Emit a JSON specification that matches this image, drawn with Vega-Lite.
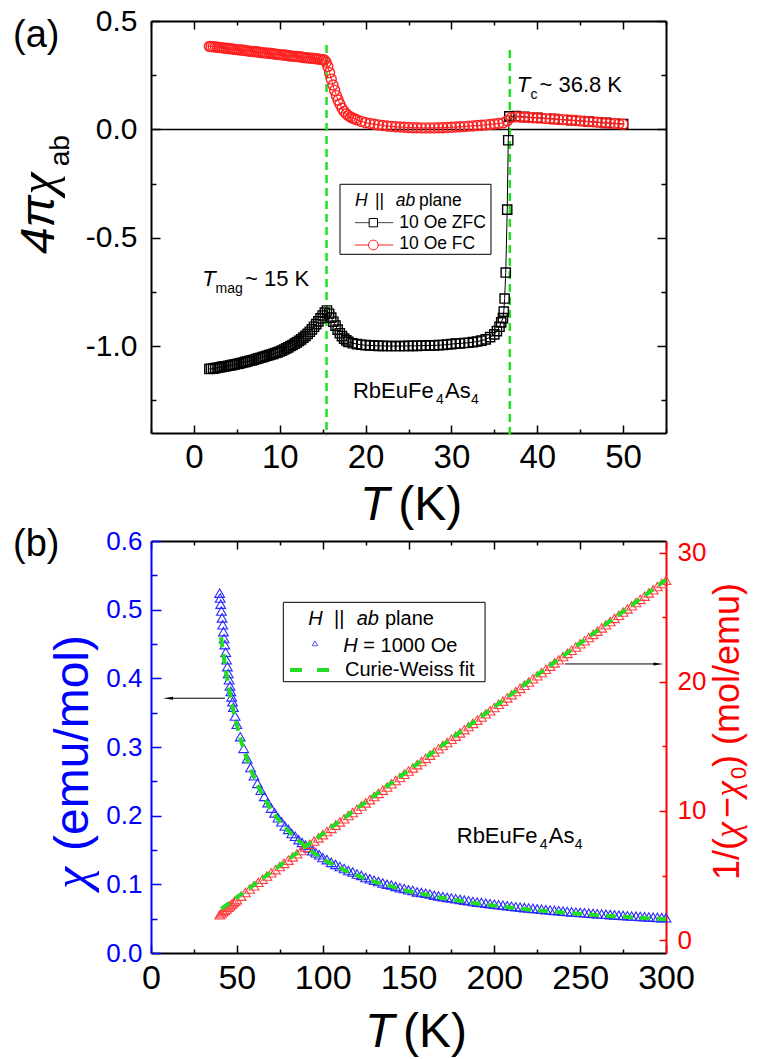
{
"$schema": "https://vega.github.io/schema/vega-lite/v6.json",
"autosize": {"type": "none"},
"padding": {"left": 151, "top": 21, "right": 606, "bottom": 1038},
"background": "white",
"config": {"view": {"stroke": null}, "font": "Liberation Sans", "text": {"font": "Liberation Sans"}, "axis": {"grid": false, "labelFont": "Liberation Sans"}},
"spacing": 108,
"bounds": "flush",
"datasets": {
"zfc": [{"T":1.8,"v":-1.105},{"T":2.0,"v":-1.104},{"T":2.25,"v":-1.103},{"T":2.5,"v":-1.101},{"T":2.75,"v":-1.099},{"T":3.0,"v":-1.097},{"T":3.25,"v":-1.095},{"T":3.5,"v":-1.093},{"T":3.75,"v":-1.092},{"T":4.0,"v":-1.09},{"T":4.25,"v":-1.088},{"T":4.5,"v":-1.086},{"T":4.75,"v":-1.084},{"T":5.0,"v":-1.082},{"T":5.25,"v":-1.08},{"T":5.5,"v":-1.077},{"T":5.75,"v":-1.075},{"T":6.0,"v":-1.072},{"T":6.25,"v":-1.07},{"T":6.5,"v":-1.067},{"T":6.75,"v":-1.065},{"T":7.0,"v":-1.062},{"T":7.25,"v":-1.059},{"T":7.5,"v":-1.056},{"T":7.75,"v":-1.053},{"T":8.0,"v":-1.05},{"T":8.25,"v":-1.047},{"T":8.5,"v":-1.044},{"T":8.75,"v":-1.041},{"T":9.0,"v":-1.038},{"T":9.25,"v":-1.035},{"T":9.5,"v":-1.031},{"T":9.75,"v":-1.028},{"T":10.0,"v":-1.024},{"T":10.25,"v":-1.02},{"T":10.5,"v":-1.015},{"T":10.75,"v":-1.01},{"T":11.0,"v":-1.005},{"T":11.25,"v":-0.999},{"T":11.5,"v":-0.994},{"T":11.75,"v":-0.988},{"T":12.0,"v":-0.982},{"T":12.25,"v":-0.975},{"T":12.5,"v":-0.968},{"T":12.75,"v":-0.96},{"T":13.0,"v":-0.952},{"T":13.25,"v":-0.943},{"T":13.5,"v":-0.933},{"T":13.75,"v":-0.922},{"T":14.0,"v":-0.91},{"T":14.25,"v":-0.898},{"T":14.5,"v":-0.885},{"T":14.75,"v":-0.871},{"T":15.0,"v":-0.858},{"T":15.25,"v":-0.845},{"T":15.5,"v":-0.835},{"T":15.75,"v":-0.85},{"T":16.0,"v":-0.868},{"T":16.25,"v":-0.887},{"T":16.5,"v":-0.905},{"T":16.75,"v":-0.923},{"T":17.0,"v":-0.94},{"T":17.25,"v":-0.953},{"T":17.5,"v":-0.965},{"T":17.75,"v":-0.973},{"T":18.0,"v":-0.98},{"T":18.5,"v":-0.986},{"T":19.0,"v":-0.99},{"T":19.5,"v":-0.993},{"T":20.0,"v":-0.995},{"T":20.5,"v":-0.996},{"T":21.0,"v":-0.997},{"T":21.5,"v":-0.998},{"T":22.0,"v":-0.998},{"T":22.5,"v":-0.999},{"T":23.0,"v":-0.999},{"T":23.5,"v":-0.999},{"T":24.0,"v":-0.999},{"T":24.5,"v":-0.999},{"T":25.0,"v":-0.998},{"T":25.5,"v":-0.998},{"T":26.0,"v":-0.998},{"T":26.5,"v":-0.997},{"T":27.0,"v":-0.997},{"T":27.5,"v":-0.996},{"T":28.0,"v":-0.996},{"T":28.5,"v":-0.995},{"T":29.0,"v":-0.994},{"T":29.5,"v":-0.992},{"T":30.0,"v":-0.99},{"T":30.5,"v":-0.988},{"T":31.0,"v":-0.987},{"T":31.5,"v":-0.985},{"T":32.0,"v":-0.984},{"T":32.5,"v":-0.981},{"T":33.0,"v":-0.978},{"T":33.5,"v":-0.974},{"T":34.0,"v":-0.968},{"T":34.5,"v":-0.958},{"T":35.0,"v":-0.945},{"T":35.3,"v":-0.93},{"T":35.6,"v":-0.91},{"T":35.8,"v":-0.89},{"T":36.0,"v":-0.87},{"T":36.1,"v":-0.84},{"T":36.2,"v":-0.78},{"T":36.33,"v":-0.66},{"T":36.5,"v":-0.37},{"T":36.62,"v":-0.05},{"T":36.75,"v":0.06},{"T":37.5,"v":0.062},{"T":38.5,"v":0.058},{"T":40,"v":0.054},{"T":42,"v":0.048},{"T":44,"v":0.042},{"T":46,"v":0.036},{"T":48,"v":0.03},{"T":50,"v":0.025}],
"fc": [{"T":1.8,"v":0.383},{"T":2.0,"v":0.382},{"T":2.25,"v":0.381},{"T":2.5,"v":0.38},{"T":2.75,"v":0.379},{"T":3.0,"v":0.378},{"T":3.25,"v":0.377},{"T":3.5,"v":0.375},{"T":3.75,"v":0.374},{"T":4.0,"v":0.373},{"T":4.25,"v":0.372},{"T":4.5,"v":0.371},{"T":4.75,"v":0.369},{"T":5.0,"v":0.368},{"T":5.25,"v":0.367},{"T":5.5,"v":0.366},{"T":5.75,"v":0.365},{"T":6.0,"v":0.364},{"T":6.25,"v":0.362},{"T":6.5,"v":0.361},{"T":6.75,"v":0.36},{"T":7.0,"v":0.359},{"T":7.25,"v":0.358},{"T":7.5,"v":0.357},{"T":7.75,"v":0.355},{"T":8.0,"v":0.354},{"T":8.25,"v":0.353},{"T":8.5,"v":0.352},{"T":8.75,"v":0.351},{"T":9.0,"v":0.35},{"T":9.25,"v":0.349},{"T":9.5,"v":0.347},{"T":9.75,"v":0.346},{"T":10.0,"v":0.345},{"T":10.25,"v":0.344},{"T":10.5,"v":0.343},{"T":10.75,"v":0.342},{"T":11.0,"v":0.34},{"T":11.25,"v":0.339},{"T":11.5,"v":0.338},{"T":11.75,"v":0.337},{"T":12.0,"v":0.336},{"T":12.25,"v":0.335},{"T":12.5,"v":0.334},{"T":12.75,"v":0.332},{"T":13.0,"v":0.331},{"T":13.25,"v":0.33},{"T":13.5,"v":0.329},{"T":13.75,"v":0.328},{"T":14.0,"v":0.327},{"T":14.25,"v":0.326},{"T":14.5,"v":0.325},{"T":14.75,"v":0.323},{"T":15.0,"v":0.322},{"T":15.2,"v":0.32},{"T":15.4,"v":0.31},{"T":15.6,"v":0.29},{"T":15.8,"v":0.262},{"T":16.0,"v":0.232},{"T":16.2,"v":0.205},{"T":16.4,"v":0.18},{"T":16.6,"v":0.156},{"T":16.8,"v":0.135},{"T":17.0,"v":0.117},{"T":17.25,"v":0.098},{"T":17.5,"v":0.083},{"T":17.75,"v":0.072},{"T":18.0,"v":0.063},{"T":18.25,"v":0.057},{"T":18.5,"v":0.052},{"T":18.75,"v":0.048},{"T":19.0,"v":0.044},{"T":19.5,"v":0.037},{"T":20.0,"v":0.031},{"T":20.5,"v":0.027},{"T":21.0,"v":0.024},{"T":21.5,"v":0.021},{"T":22.0,"v":0.018},{"T":22.5,"v":0.016},{"T":23.0,"v":0.014},{"T":23.5,"v":0.012},{"T":24.0,"v":0.011},{"T":24.5,"v":0.01},{"T":25.0,"v":0.009},{"T":25.5,"v":0.008},{"T":26.0,"v":0.008},{"T":26.5,"v":0.007},{"T":27.0,"v":0.007},{"T":27.5,"v":0.007},{"T":28.0,"v":0.007},{"T":28.5,"v":0.008},{"T":29.0,"v":0.008},{"T":29.5,"v":0.009},{"T":30.0,"v":0.01},{"T":30.5,"v":0.011},{"T":31.0,"v":0.012},{"T":31.5,"v":0.013},{"T":32.0,"v":0.015},{"T":32.5,"v":0.016},{"T":33.0,"v":0.018},{"T":33.5,"v":0.019},{"T":34.0,"v":0.021},{"T":34.5,"v":0.023},{"T":35.0,"v":0.025},{"T":35.5,"v":0.027},{"T":36.0,"v":0.03},{"T":36.5,"v":0.04},{"T":37.0,"v":0.055},{"T":37.5,"v":0.058},{"T":38.0,"v":0.057},{"T":38.5,"v":0.056},{"T":39.0,"v":0.055},{"T":39.5,"v":0.054},{"T":40.0,"v":0.053},{"T":40.5,"v":0.052},{"T":41.0,"v":0.05},{"T":41.5,"v":0.049},{"T":42.0,"v":0.048},{"T":42.5,"v":0.046},{"T":43.0,"v":0.045},{"T":43.5,"v":0.044},{"T":44.0,"v":0.042},{"T":44.5,"v":0.041},{"T":45.0,"v":0.039},{"T":45.5,"v":0.038},{"T":46.0,"v":0.036},{"T":46.5,"v":0.035},{"T":47.0,"v":0.033},{"T":47.5,"v":0.032},{"T":48.0,"v":0.03},{"T":48.5,"v":0.029},{"T":49.0,"v":0.027},{"T":49.5,"v":0.026},{"T":50.0,"v":0.024}],
"chi": [{"T":40.0,"c":0.524},{"T":40.3,"c":0.517},{"T":40.6,"c":0.508},{"T":41.0,"c":0.498},{"T":41.4,"c":0.488},{"T":41.8,"c":0.478},{"T":42.2,"c":0.468},{"T":42.6,"c":0.458},{"T":43.0,"c":0.449},{"T":43.5,"c":0.438},{"T":44.0,"c":0.427},{"T":44.5,"c":0.417},{"T":45.0,"c":0.407},{"T":45.5,"c":0.398},{"T":46.0,"c":0.389},{"T":46.5,"c":0.381},{"T":47.0,"c":0.373},{"T":47.5,"c":0.366},{"T":48.0,"c":0.358},{"T":49.0,"c":0.345},{"T":50.0,"c":0.333},{"T":52,"c":0.315},{"T":54,"c":0.298},{"T":56,"c":0.283},{"T":58,"c":0.27},{"T":60,"c":0.258},{"T":62,"c":0.247},{"T":64,"c":0.237},{"T":66,"c":0.228},{"T":68,"c":0.219},{"T":70,"c":0.211},{"T":72,"c":0.204},{"T":74,"c":0.197},{"T":76,"c":0.191},{"T":78,"c":0.185},{"T":80,"c":0.18},{"T":82,"c":0.174},{"T":84,"c":0.17},{"T":86,"c":0.165},{"T":88,"c":0.161},{"T":90,"c":0.157},{"T":92,"c":0.153},{"T":94,"c":0.149},{"T":96,"c":0.146},{"T":98,"c":0.143},{"T":100,"c":0.139},{"T":102.5,"c":0.136},{"T":105,"c":0.132},{"T":107.5,"c":0.129},{"T":110,"c":0.126},{"T":112.5,"c":0.123},{"T":115,"c":0.12},{"T":117.5,"c":0.118},{"T":120,"c":0.115},{"T":122.5,"c":0.113},{"T":125,"c":0.11},{"T":127.5,"c":0.108},{"T":130,"c":0.106},{"T":132.5,"c":0.104},{"T":135,"c":0.102},{"T":137.5,"c":0.1},{"T":140,"c":0.099},{"T":142.5,"c":0.097},{"T":145,"c":0.095},{"T":147.5,"c":0.094},{"T":150,"c":0.092},{"T":152.5,"c":0.091},{"T":155,"c":0.089},{"T":157.5,"c":0.088},{"T":160,"c":0.087},{"T":162.5,"c":0.086},{"T":165,"c":0.084},{"T":167.5,"c":0.083},{"T":170,"c":0.082},{"T":172.5,"c":0.081},{"T":175,"c":0.08},{"T":177.5,"c":0.079},{"T":180,"c":0.078},{"T":182.5,"c":0.077},{"T":185,"c":0.076},{"T":187.5,"c":0.075},{"T":190,"c":0.074},{"T":192.5,"c":0.0735},{"T":195,"c":0.0726},{"T":197.5,"c":0.0718},{"T":200,"c":0.071},{"T":202.5,"c":0.0703},{"T":205,"c":0.0695},{"T":207.5,"c":0.0688},{"T":210,"c":0.0681},{"T":212.5,"c":0.0674},{"T":215,"c":0.0668},{"T":217.5,"c":0.0661},{"T":220,"c":0.0655},{"T":222.5,"c":0.0649},{"T":225,"c":0.0643},{"T":227.5,"c":0.0637},{"T":230,"c":0.0631},{"T":232.5,"c":0.0626},{"T":235,"c":0.062},{"T":237.5,"c":0.0615},{"T":240,"c":0.0609},{"T":242.5,"c":0.0604},{"T":245,"c":0.0599},{"T":247.5,"c":0.0594},{"T":250,"c":0.059},{"T":252.5,"c":0.0585},{"T":255,"c":0.058},{"T":257.5,"c":0.0576},{"T":260,"c":0.0571},{"T":262.5,"c":0.0567},{"T":265,"c":0.0563},{"T":267.5,"c":0.0559},{"T":270,"c":0.0555},{"T":272.5,"c":0.0551},{"T":275,"c":0.0547},{"T":277.5,"c":0.0543},{"T":280,"c":0.0539},{"T":282.5,"c":0.0536},{"T":285,"c":0.0532},{"T":287.5,"c":0.0528},{"T":290,"c":0.0525},{"T":292.5,"c":0.0522},{"T":295,"c":0.0518},{"T":297.5,"c":0.0515},{"T":300,"c":0.0512}],
"inv": [{"T":40,"r":1.96},{"T":41,"r":2.06},{"T":42,"r":2.2},{"T":43,"r":2.3},{"T":44,"r":2.41},{"T":45,"r":2.54},{"T":46,"r":2.65},{"T":47,"r":2.77},{"T":48,"r":2.9},{"T":49,"r":3.01},{"T":50,"r":3.13},{"T":52.5,"r":3.4},{"T":55,"r":3.68},{"T":57.5,"r":3.95},{"T":60,"r":4.21},{"T":62.5,"r":4.47},{"T":65,"r":4.71},{"T":67.5,"r":4.96},{"T":70,"r":5.21},{"T":72.5,"r":5.45},{"T":75,"r":5.7},{"T":77.5,"r":5.94},{"T":80,"r":6.19},{"T":82.5,"r":6.44},{"T":85,"r":6.68},{"T":87.5,"r":6.93},{"T":90,"r":7.18},{"T":92.5,"r":7.42},{"T":95,"r":7.67},{"T":97.5,"r":7.91},{"T":100,"r":8.16},{"T":102.5,"r":8.41},{"T":105,"r":8.65},{"T":107.5,"r":8.9},{"T":110,"r":9.15},{"T":112.5,"r":9.39},{"T":115,"r":9.64},{"T":117.5,"r":9.88},{"T":120,"r":10.13},{"T":122.5,"r":10.38},{"T":125,"r":10.62},{"T":127.5,"r":10.87},{"T":130,"r":11.12},{"T":132.5,"r":11.36},{"T":135,"r":11.61},{"T":137.5,"r":11.85},{"T":140,"r":12.1},{"T":142.5,"r":12.35},{"T":145,"r":12.59},{"T":147.5,"r":12.84},{"T":150,"r":13.09},{"T":152.5,"r":13.33},{"T":155,"r":13.58},{"T":157.5,"r":13.82},{"T":160,"r":14.07},{"T":162.5,"r":14.32},{"T":165,"r":14.56},{"T":167.5,"r":14.81},{"T":170,"r":15.06},{"T":172.5,"r":15.3},{"T":175,"r":15.55},{"T":177.5,"r":15.79},{"T":180,"r":16.04},{"T":182.5,"r":16.29},{"T":185,"r":16.53},{"T":187.5,"r":16.78},{"T":190,"r":17.03},{"T":192.5,"r":17.27},{"T":195,"r":17.52},{"T":197.5,"r":17.76},{"T":200,"r":18.01},{"T":202.5,"r":18.26},{"T":205,"r":18.5},{"T":207.5,"r":18.75},{"T":210,"r":19.0},{"T":212.5,"r":19.24},{"T":215,"r":19.49},{"T":217.5,"r":19.73},{"T":220,"r":19.98},{"T":222.5,"r":20.23},{"T":225,"r":20.47},{"T":227.5,"r":20.72},{"T":230,"r":20.97},{"T":232.5,"r":21.21},{"T":235,"r":21.46},{"T":237.5,"r":21.7},{"T":240,"r":21.95},{"T":242.5,"r":22.2},{"T":245,"r":22.44},{"T":247.5,"r":22.69},{"T":250,"r":22.94},{"T":252.5,"r":23.18},{"T":255,"r":23.43},{"T":257.5,"r":23.67},{"T":260,"r":23.92},{"T":262.5,"r":24.17},{"T":265,"r":24.41},{"T":267.5,"r":24.66},{"T":270,"r":24.91},{"T":272.5,"r":25.15},{"T":275,"r":25.4},{"T":277.5,"r":25.64},{"T":280,"r":25.89},{"T":282.5,"r":26.14},{"T":285,"r":26.38},{"T":287.5,"r":26.63},{"T":290,"r":26.88},{"T":292.5,"r":27.12},{"T":295,"r":27.37},{"T":297.5,"r":27.61},{"T":300,"r":27.86}],
"chifit": [{"T":40.8,"c":0.46},{"T":42,"c":0.438},{"T":44,"c":0.405},{"T":46,"c":0.377},{"T":48,"c":0.353},{"T":50,"c":0.332},{"T":55,"c":0.289},{"T":60,"c":0.256},{"T":65,"c":0.23},{"T":70,"c":0.209},{"T":75,"c":0.192},{"T":80,"c":0.178},{"T":90,"c":0.155},{"T":100,"c":0.137},{"T":110,"c":0.124},{"T":120,"c":0.113},{"T":130,"c":0.104},{"T":140,"c":0.097},{"T":150,"c":0.09},{"T":160,"c":0.085},{"T":170,"c":0.08},{"T":180,"c":0.076},{"T":190,"c":0.072},{"T":200,"c":0.069},{"T":220,"c":0.0635},{"T":240,"c":0.059},{"T":260,"c":0.0551},{"T":280,"c":0.0519},{"T":300,"c":0.0492}],
"invfit": [{"T":41,"r":2.42},{"T":300,"r":27.9}]
},
"vconcat": [
{
"width": 515, "height": 412,
"resolve": {"axis": {"x": "independent", "y": "independent"}},
"layer": [
{"data": {"values": [{"T": -5, "T2": 55, "v": 0}]},
 "mark": {"type": "rule", "color": "black", "strokeWidth": 1.5},
 "encoding": {
  "x": {"field": "T", "type": "quantitative", "scale": {"domain": [-5, 55], "nice": false, "zero": false},
        "axis": {"orient": "bottom", "values": [0,10,20,30,40,50], "ticks": false, "labelFontSize": 33, "labelPadding": 8, "labelColor": "black", "labelFlush": false, "labelOverlap": false, "domain": true, "domainColor": "black", "domainWidth": 2, "title": null}},
  "x2": {"field": "T2"},
  "y": {"field": "v", "type": "quantitative", "scale": {"domain": [-1.4, 0.5], "nice": false, "zero": false},
        "axis": {"orient": "left", "values": [-1,-0.5,0,0.5], "labelExpr": "(datum.value < 0 ? '-' : '') + format(abs(datum.value), '.1f')", "ticks": false, "labelFontSize": 30, "labelPadding": 14, "labelColor": "black", "labelOverlap": false, "domain": true, "domainColor": "black", "domainWidth": 2, "title": null}}
 }},
{"data": {"values": [{"T": 15.45, "v": 0.389, "v2": -1.41}, {"T": 36.8, "v": 0.366, "v2": -1.415}]},
 "mark": {"type": "rule", "color": "#22e022", "strokeWidth": 2.5, "strokeDash": [8, 5]},
 "encoding": {
  "x": {"field": "T", "type": "quantitative", "scale": {"domain": [-5, 55], "nice": false, "zero": false},
        "axis": {"orient": "bottom", "values": [0,10,20,30,40,50], "labels": false, "domain": false, "tickSize": -8, "tickWidth": 1.5, "tickColor": "black", "title": null}},
  "y": {"field": "v", "type": "quantitative", "scale": {"domain": [-1.4, 0.5], "nice": false, "zero": false},
        "axis": {"orient": "left", "values": [-1,-0.5,0,0.5], "labels": false, "domain": false, "tickSize": -9, "tickWidth": 1.5, "tickColor": "black", "title": null}},
  "y2": {"field": "v2"}
 }},
{"data": {"name": "zfc"},
 "mark": {"type": "line", "color": "black", "strokeWidth": 1},
 "encoding": {
  "x": {"field": "T", "type": "quantitative", "scale": {"domain": [-5, 55], "nice": false, "zero": false},
        "axis": {"orient": "bottom", "values": [-5,5,15,25,35,45,55], "labels": false, "domain": false, "tickSize": -4, "tickWidth": 1.5, "tickColor": "black", "title": null}},
  "y": {"field": "v", "type": "quantitative", "scale": {"domain": [-1.4, 0.5], "nice": false, "zero": false},
        "axis": {"orient": "left", "values": [-1.25,-0.75,-0.25,0.25], "labels": false, "domain": false, "tickSize": -5, "tickWidth": 1.5, "tickColor": "black", "title": null}}
 }},
{"data": {"name": "fc"},
 "mark": {"type": "line", "color": "#ff2020", "strokeWidth": 1},
 "encoding": {
  "x": {"field": "T", "type": "quantitative", "scale": {"domain": [-5, 55], "nice": false, "zero": false},
        "axis": {"orient": "top", "values": [0,10,20,30,40,50], "labels": false, "domain": true, "domainColor": "black", "domainWidth": 2, "tickSize": -8, "tickWidth": 1.5, "tickColor": "black", "title": null}},
  "y": {"field": "v", "type": "quantitative", "scale": {"domain": [-1.4, 0.5], "nice": false, "zero": false},
        "axis": {"orient": "right", "values": [-1,-0.5,0,0.5], "labels": false, "domain": true, "domainColor": "black", "domainWidth": 2, "tickSize": -9, "tickWidth": 1.5, "tickColor": "black", "title": null}}
 }},
{"data": {"name": "zfc"},
 "mark": {"type": "point", "shape": "square", "size": 85, "filled": false, "stroke": "black", "strokeWidth": 1.4, "opacity": 1},
 "encoding": {
  "x": {"field": "T", "type": "quantitative", "scale": {"domain": [-5, 55], "nice": false, "zero": false},
        "axis": {"orient": "top", "values": [-5,5,15,25,35,45,55], "labels": false, "domain": false, "tickSize": -4, "tickWidth": 1.5, "tickColor": "black", "title": null}},
  "y": {"field": "v", "type": "quantitative", "scale": {"domain": [-1.4, 0.5], "nice": false, "zero": false},
        "axis": {"orient": "right", "values": [-1.25,-0.75,-0.25,0.25], "labels": false, "domain": false, "tickSize": -5, "tickWidth": 1.5, "tickColor": "black", "title": null}}
 }},
{"data": {"name": "fc"},
 "mark": {"type": "point", "shape": "circle", "size": 100, "filled": false, "stroke": "#ff2020", "strokeWidth": 1.4, "opacity": 1},
 "encoding": {
  "x": {"field": "T", "type": "quantitative", "scale": {"domain": [-5, 55], "nice": false, "zero": false}, "axis": null},
  "y": {"field": "v", "type": "quantitative", "scale": {"domain": [-1.4, 0.5], "nice": false, "zero": false}, "axis": null}
 }},
{"data": {"values": [{"T": 17.02, "T2": 34.61, "v": -0.253, "v2": -0.576}]},
 "mark": {"type": "rect", "fill": "white", "stroke": "black", "strokeWidth": 1},
 "encoding": {
  "x": {"field": "T", "type": "quantitative", "axis": null}, "x2": {"field": "T2"},
  "y": {"field": "v", "type": "quantitative", "axis": null}, "y2": {"field": "v2"}
 }},
{"data": {"values": [{"T": 18.77, "T2": 23.23, "v": -0.43, "s": "ZFC"}, {"T": 18.77, "T2": 23.23, "v": -0.533, "s": "FC"}]},
 "mark": {"type": "rule", "strokeWidth": 1},
 "encoding": {
  "x": {"field": "T", "type": "quantitative", "axis": null}, "x2": {"field": "T2"},
  "y": {"field": "v", "type": "quantitative", "axis": null},
  "color": {"field": "s", "type": "nominal", "scale": {"domain": ["ZFC", "FC"], "range": ["#444444", "#ff2020"]}, "legend": null}
 }},
{"data": {"values": [{"T": 20.9, "v": -0.43}]},
 "mark": {"type": "point", "shape": "square", "size": 70, "fill": "white", "stroke": "black", "strokeWidth": 1, "opacity": 1, "filled": true},
 "encoding": {"x": {"field": "T", "type": "quantitative", "axis": null}, "y": {"field": "v", "type": "quantitative", "axis": null}}},
{"data": {"values": [{"T": 20.9, "v": -0.533}]},
 "mark": {"type": "point", "shape": "circle", "size": 95, "fill": "white", "stroke": "#ff2020", "strokeWidth": 1, "opacity": 1, "filled": true},
 "encoding": {"x": {"field": "T", "type": "quantitative", "axis": null}, "y": {"field": "v", "type": "quantitative", "axis": null}}},
{"data": {"values": [{"T": 40.26, "v": 0.174, "t": "~ 36.8 K"}, {"T": 5.95, "v": -0.722, "t": "~ 15 K"}, {"T": 18.53, "v": -1.239, "t": "RbEuFe"}, {"T": 29.25, "v": -1.239, "t": "As"}]},
 "mark": {"type": "text", "align": "left", "baseline": "alphabetic", "fontSize": 22, "color": "black"},
 "encoding": {"x": {"field": "T", "type": "quantitative", "axis": null}, "y": {"field": "v", "type": "quantitative", "axis": null}, "text": {"field": "t"}}},
{"data": {"values": [{"T": 37.61, "v": 0.174, "t": "T"}, {"T": 0.98, "v": -0.722, "t": "T"}]},
 "mark": {"type": "text", "align": "left", "baseline": "alphabetic", "fontSize": 22, "fontStyle": "italic", "color": "black"},
 "encoding": {"x": {"field": "T", "type": "quantitative", "axis": null}, "y": {"field": "v", "type": "quantitative", "axis": null}, "text": {"field": "t"}}},
{"data": {"values": [{"T": 39.21, "v": 0.14, "t": "c"}, {"T": 2.52, "v": -0.756, "t": "mag"}, {"T": 28.2, "v": -1.267, "t": "4"}, {"T": 32.28, "v": -1.267, "t": "4"}]},
 "mark": {"type": "text", "align": "left", "baseline": "alphabetic", "fontSize": 14, "color": "black"},
 "encoding": {"x": {"field": "T", "type": "quantitative", "axis": null}, "y": {"field": "v", "type": "quantitative", "axis": null}, "text": {"field": "t"}}},
{"data": {"values": [{"T": 21.1, "v": -0.352, "t": "||"}, {"T": 26.22, "v": -0.352, "t": "plane"}, {"T": 23.93, "v": -0.456, "t": "10 Oe ZFC"}, {"T": 23.93, "v": -0.552, "t": "10 Oe FC"}]},
 "mark": {"type": "text", "align": "left", "baseline": "alphabetic", "fontSize": 17.5, "color": "black"},
 "encoding": {"x": {"field": "T", "type": "quantitative", "axis": null}, "y": {"field": "v", "type": "quantitative", "axis": null}, "text": {"field": "t"}}},
{"data": {"values": [{"T": 18.77, "v": -0.352, "t": "H"}, {"T": 23.51, "v": -0.352, "t": "ab"}]},
 "mark": {"type": "text", "align": "left", "baseline": "alphabetic", "fontSize": 17.5, "fontStyle": "italic", "color": "black"},
 "encoding": {"x": {"field": "T", "type": "quantitative", "axis": null}, "y": {"field": "v", "type": "quantitative", "axis": null}, "text": {"field": "t"}}},
{"data": {"values": [{"T": 19.35, "v": -1.801, "t": "T"}]},
 "mark": {"type": "text", "align": "left", "baseline": "alphabetic", "fontSize": 48, "fontStyle": "italic", "color": "black"},
 "encoding": {"x": {"field": "T", "type": "quantitative", "axis": null}, "y": {"field": "v", "type": "quantitative", "axis": null}, "text": {"field": "t"}}},
{"data": {"values": [{"T": 23.81, "v": -1.801, "t": "(K)"}]},
 "mark": {"type": "text", "align": "left", "baseline": "alphabetic", "fontSize": 48, "color": "black"},
 "encoding": {"x": {"field": "T", "type": "quantitative", "axis": null}, "y": {"field": "v", "type": "quantitative", "axis": null}, "text": {"field": "t"}}},
{"data": {"values": [{"T": -21.08, "v": 0.38, "t": "(a)"}]},
 "mark": {"type": "text", "align": "left", "baseline": "alphabetic", "fontSize": 38, "color": "black"},
 "encoding": {"x": {"field": "T", "type": "quantitative", "axis": null}, "y": {"field": "v", "type": "quantitative", "axis": null}, "text": {"field": "t"}}},
{"data": {"values": [{"T": -16.3, "v": -0.575, "t": "4π"}]},
 "mark": {"type": "text", "align": "left", "baseline": "alphabetic", "fontSize": 48, "fontStyle": "italic", "angle": 270, "color": "black"},
 "encoding": {"x": {"field": "T", "type": "quantitative", "axis": null}, "y": {"field": "v", "type": "quantitative", "axis": null}, "text": {"field": "t"}}},
{"data": {"values": [{"T": -16.3, "v": -0.3, "t": "χ"}]},
 "mark": {"type": "text", "align": "left", "baseline": "alphabetic", "fontSize": 50, "fontStyle": "italic", "font": "Liberation Serif", "angle": 270, "color": "black"},
 "encoding": {"x": {"field": "T", "type": "quantitative", "axis": null}, "y": {"field": "v", "type": "quantitative", "axis": null}, "text": {"field": "t"}}},
{"data": {"values": [{"T": -14.6, "v": -0.17, "t": "ab"}]},
 "mark": {"type": "text", "align": "left", "baseline": "alphabetic", "fontSize": 28, "angle": 270, "color": "black"},
 "encoding": {"x": {"field": "T", "type": "quantitative", "axis": null}, "y": {"field": "v", "type": "quantitative", "axis": null}, "text": {"field": "t"}}}
]
},
{
"width": 515, "height": 412,
"resolve": {"scale": {"y": "independent"}, "axis": {"x": "independent", "y": "independent"}},
"layer": [
{"data": {"name": "chi"},
 "mark": {"type": "point", "shape": "triangle-up", "size": 95, "filled": false, "stroke": "#2a2aff", "strokeWidth": 1.1, "opacity": 1},
 "encoding": {
  "x": {"field": "T", "type": "quantitative", "scale": {"domain": [0, 300], "nice": false, "zero": false},
        "axis": {"orient": "bottom", "values": [0,50,100,150,200,250,300], "ticks": false, "labelFontSize": 34, "labelPadding": 8, "labelColor": "black", "labelFlush": false, "labelOverlap": false, "domain": true, "domainColor": "black", "domainWidth": 2, "title": null}},
  "y": {"field": "c", "type": "quantitative", "scale": {"domain": [0, 0.6], "nice": false, "zero": false},
        "axis": {"orient": "left", "values": [0,0.1,0.2,0.3,0.4,0.5,0.6], "format": ".1f", "ticks": false, "labelFontSize": 26, "labelPadding": 9, "labelColor": "#0000ff", "labelOverlap": false, "domain": true, "domainColor": "#0000ff", "domainWidth": 2, "title": null}}
 }},
{"data": {"name": "inv"},
 "mark": {"type": "point", "shape": "triangle-up", "size": 95, "filled": false, "stroke": "#ff4040", "strokeWidth": 1.1, "opacity": 1},
 "encoding": {
  "x": {"field": "T", "type": "quantitative", "scale": {"domain": [0, 300], "nice": false, "zero": false}, "axis": null},
  "y": {"field": "r", "type": "quantitative", "scale": {"domain": [-1, 30.9], "nice": false, "zero": false},
        "axis": {"orient": "right", "values": [0,10,20,30], "format": "d", "ticks": false, "labelFontSize": 26, "labelPadding": 11, "labelColor": "#ff0000", "labelOverlap": false, "domain": true, "domainColor": "#ff0000", "domainWidth": 2, "title": null}}
 }},
{"data": {"name": "chifit"},
 "mark": {"type": "line", "color": "#22dd22", "strokeWidth": 4, "strokeDash": [10, 7], "interpolate": "monotone"},
 "encoding": {
  "x": {"field": "T", "type": "quantitative", "scale": {"domain": [0, 300], "nice": false, "zero": false},
        "axis": {"orient": "bottom", "values": [0,50,100,150,200,250,300], "labels": false, "domain": false, "tickSize": -8, "tickWidth": 1.5, "tickColor": "black", "title": null}},
  "y": {"field": "c", "type": "quantitative", "scale": {"domain": [0, 0.6], "nice": false, "zero": false},
        "axis": {"orient": "left", "values": [0,0.1,0.2,0.3,0.4,0.5,0.6], "labels": false, "domain": false, "tickSize": -10, "tickWidth": 1.5, "tickColor": "#0000ff", "title": null}}
 }},
{"data": {"name": "invfit"},
 "mark": {"type": "line", "color": "#22dd22", "strokeWidth": 4, "strokeDash": [10, 7]},
 "encoding": {
  "x": {"field": "T", "type": "quantitative", "scale": {"domain": [0, 300], "nice": false, "zero": false}, "axis": null},
  "y": {"field": "r", "type": "quantitative", "scale": {"domain": [-1, 30.9], "nice": false, "zero": false},
        "axis": {"orient": "right", "values": [0,10,20,30], "labels": false, "domain": false, "tickSize": -7, "tickWidth": 1.5, "tickColor": "#ff0000", "title": null}}
 }},
{"data": {"values": [{"T": 43.1, "T2": 11.1, "c": 0.371}]},
 "mark": {"type": "rule", "color": "black", "strokeWidth": 1},
 "encoding": {
  "x": {"field": "T", "type": "quantitative", "scale": {"domain": [0, 300], "nice": false, "zero": false},
        "axis": {"orient": "bottom", "values": [25,75,125,175,225,275], "labels": false, "domain": false, "tickSize": -4, "tickWidth": 1.5, "tickColor": "black", "title": null}},
  "x2": {"field": "T2"},
  "y": {"field": "c", "type": "quantitative", "scale": {"domain": [0, 0.6], "nice": false, "zero": false},
        "axis": {"orient": "left", "values": [0.05,0.15,0.25,0.35,0.45,0.55], "labels": false, "domain": false, "tickSize": -6, "tickWidth": 1.5, "tickColor": "#0000ff", "title": null}}
 }},
{"data": {"values": [{"T": 241.2, "T2": 293.6, "r": 21.38}]},
 "mark": {"type": "rule", "color": "black", "strokeWidth": 1},
 "encoding": {
  "x": {"field": "T", "type": "quantitative", "scale": {"domain": [0, 300], "nice": false, "zero": false}, "axis": null},
  "x2": {"field": "T2"},
  "y": {"field": "r", "type": "quantitative", "scale": {"domain": [-1, 30.9], "nice": false, "zero": false},
        "axis": {"orient": "right", "values": [5,15,25], "labels": false, "domain": false, "tickSize": -4, "tickWidth": 1.5, "tickColor": "#ff0000", "title": null}}
 }},
{"data": {"values": [{"T": 9.9, "c": 0.371}]},
 "mark": {"type": "point", "shape": "M-1,0L1,-0.3L1,0.3Z", "size": 100, "filled": true, "fill": "black", "stroke": null, "opacity": 1},
 "encoding": {
  "x": {"field": "T", "type": "quantitative", "scale": {"domain": [0, 300], "nice": false, "zero": false},
        "axis": {"orient": "top", "values": [0,50,100,150,200,250,300], "labels": false, "domain": true, "domainColor": "black", "domainWidth": 2, "tickSize": -8, "tickWidth": 1.5, "tickColor": "black", "title": null}},
  "y": {"field": "c", "type": "quantitative", "scale": {"domain": [0, 0.6], "nice": false, "zero": false}, "axis": null}
 }},
{"data": {"values": [{"T": 295.6, "r": 21.38}]},
 "mark": {"type": "point", "shape": "M1,0L-1,-0.3L-1,0.3Z", "size": 100, "filled": true, "fill": "black", "stroke": null, "opacity": 1},
 "encoding": {
  "x": {"field": "T", "type": "quantitative", "scale": {"domain": [0, 300], "nice": false, "zero": false}, "axis": null},
  "y": {"field": "r", "type": "quantitative", "scale": {"domain": [-1, 30.9], "nice": false, "zero": false}, "axis": null}
 }},
{"data": {"values": [{"T": 77.07, "T2": 194.6, "c": 0.5107, "c2": 0.3951}]},
 "mark": {"type": "rect", "fill": "white", "stroke": "black", "strokeWidth": 1},
 "encoding": {
  "x": {"field": "T", "type": "quantitative", "scale": {"domain": [0, 300], "nice": false, "zero": false},
        "axis": {"orient": "top", "values": [25,75,125,175,225,275], "labels": false, "domain": false, "tickSize": -4, "tickWidth": 1.5, "tickColor": "black", "title": null}},
  "x2": {"field": "T2"},
  "y": {"field": "c", "type": "quantitative", "scale": {"domain": [0, 0.6], "nice": false, "zero": false}, "axis": null},
  "y2": {"field": "c2"}
 }},
{"data": {"values": [{"T": 81.0, "T2": 104.3, "c": 0.4121}]},
 "mark": {"type": "rule", "color": "#22dd22", "strokeWidth": 4, "strokeDash": [12, 15]},
 "encoding": {
  "x": {"field": "T", "type": "quantitative", "scale": {"domain": [0, 300], "nice": false, "zero": false}, "axis": null},
  "x2": {"field": "T2"},
  "y": {"field": "c", "type": "quantitative", "scale": {"domain": [0, 0.6], "nice": false, "zero": false}, "axis": null}
 }},
{"data": {"values": [{"T": 95.5, "c": 0.451}]},
 "mark": {"type": "point", "shape": "triangle-up", "size": 30, "filled": false, "stroke": "#2a2aff", "strokeWidth": 0.8, "opacity": 1},
 "encoding": {
  "x": {"field": "T", "type": "quantitative", "scale": {"domain": [0, 300], "nice": false, "zero": false}, "axis": null},
  "y": {"field": "c", "type": "quantitative", "scale": {"domain": [0, 0.6], "nice": false, "zero": false}, "axis": null}
 }},
{"data": {"values": [{"T": 106.6, "c": 0.4776, "t": "||"}, {"T": 136.3, "c": 0.4776, "t": "plane"}, {"T": 123.7, "c": 0.4388, "t": "= 1000 Oe"}, {"T": 113.0, "c": 0.4034, "t": "Curie-Weiss fit"}]},
 "mark": {"type": "text", "align": "left", "baseline": "alphabetic", "fontSize": 20, "color": "black"},
 "encoding": {
  "x": {"field": "T", "type": "quantitative", "scale": {"domain": [0, 300], "nice": false, "zero": false}, "axis": null},
  "y": {"field": "c", "type": "quantitative", "scale": {"domain": [0, 0.6], "nice": false, "zero": false}, "axis": null},
  "text": {"field": "t"}}},
{"data": {"values": [{"T": 91.6, "c": 0.4776, "t": "H"}, {"T": 119.8, "c": 0.4776, "t": "ab"}, {"T": 112.0, "c": 0.4388, "t": "H"}]},
 "mark": {"type": "text", "align": "left", "baseline": "alphabetic", "fontSize": 20, "fontStyle": "italic", "color": "black"},
 "encoding": {
  "x": {"field": "T", "type": "quantitative", "scale": {"domain": [0, 300], "nice": false, "zero": false}, "axis": null},
  "y": {"field": "c", "type": "quantitative", "scale": {"domain": [0, 0.6], "nice": false, "zero": false}, "axis": null},
  "text": {"field": "t"}}},
{"data": {"values": [{"T": 178.1, "c": 0.1606, "t": "RbEuFe"}, {"T": 231.7, "c": 0.1606, "t": "As"}]},
 "mark": {"type": "text", "align": "left", "baseline": "alphabetic", "fontSize": 22, "color": "black"},
 "encoding": {
  "x": {"field": "T", "type": "quantitative", "scale": {"domain": [0, 300], "nice": false, "zero": false}, "axis": null},
  "y": {"field": "c", "type": "quantitative", "scale": {"domain": [0, 0.6], "nice": false, "zero": false}, "axis": null},
  "text": {"field": "t"}}},
{"data": {"values": [{"T": 226.4, "c": 0.1519, "t": "4"}, {"T": 246.8, "c": 0.1519, "t": "4"}]},
 "mark": {"type": "text", "align": "left", "baseline": "alphabetic", "fontSize": 14, "color": "black"},
 "encoding": {
  "x": {"field": "T", "type": "quantitative", "scale": {"domain": [0, 300], "nice": false, "zero": false}, "axis": null},
  "y": {"field": "c", "type": "quantitative", "scale": {"domain": [0, 0.6], "nice": false, "zero": false}, "axis": null},
  "text": {"field": "t"}}},
{"data": {"values": [{"T": -80.4, "c": 0.578, "t": "(b)"}]},
 "mark": {"type": "text", "align": "left", "baseline": "alphabetic", "fontSize": 38, "color": "black"},
 "encoding": {
  "x": {"field": "T", "type": "quantitative", "scale": {"domain": [0, 300], "nice": false, "zero": false}, "axis": null},
  "y": {"field": "c", "type": "quantitative", "scale": {"domain": [0, 0.6], "nice": false, "zero": false}, "axis": null},
  "text": {"field": "t"}}},
{"data": {"values": [{"T": 124.7, "c": -0.137, "t": "T"}]},
 "mark": {"type": "text", "align": "left", "baseline": "alphabetic", "fontSize": 48, "fontStyle": "italic", "color": "black"},
 "encoding": {
  "x": {"field": "T", "type": "quantitative", "scale": {"domain": [0, 300], "nice": false, "zero": false}, "axis": null},
  "y": {"field": "c", "type": "quantitative", "scale": {"domain": [0, 0.6], "nice": false, "zero": false}, "axis": null},
  "text": {"field": "t"}}},
{"data": {"values": [{"T": 146.8, "c": -0.137, "t": "(K)"}]},
 "mark": {"type": "text", "align": "left", "baseline": "alphabetic", "fontSize": 48, "color": "black"},
 "encoding": {
  "x": {"field": "T", "type": "quantitative", "scale": {"domain": [0, 300], "nice": false, "zero": false}, "axis": null},
  "y": {"field": "c", "type": "quantitative", "scale": {"domain": [0, 0.6], "nice": false, "zero": false}, "axis": null},
  "text": {"field": "t"}}},
{"data": {"values": [{"T": -36.7, "c": 0.0932, "t": "χ"}]},
 "mark": {"type": "text", "align": "left", "baseline": "alphabetic", "fontSize": 50, "fontStyle": "italic", "font": "Liberation Serif", "angle": 270, "color": "#0000ff"},
 "encoding": {
  "x": {"field": "T", "type": "quantitative", "scale": {"domain": [0, 300], "nice": false, "zero": false}, "axis": null},
  "y": {"field": "c", "type": "quantitative", "scale": {"domain": [0, 0.6], "nice": false, "zero": false}, "axis": null},
  "text": {"field": "t"}}},
{"data": {"values": [{"T": -36.7, "c": 0.1485, "t": "(emu/mol)"}]},
 "mark": {"type": "text", "align": "left", "baseline": "alphabetic", "fontSize": 48, "angle": 270, "color": "#0000ff"},
 "encoding": {
  "x": {"field": "T", "type": "quantitative", "scale": {"domain": [0, 300], "nice": false, "zero": false}, "axis": null},
  "y": {"field": "c", "type": "quantitative", "scale": {"domain": [0, 0.6], "nice": false, "zero": false}, "axis": null},
  "text": {"field": "t"}}},
{"data": {"values": [{"T": 342.5, "c": 0.1063, "t": "1/("}, {"T": 342.5, "c": 0.1966, "t": "−"}, {"T": 342.5, "c": 0.2709, "t": ") (mol/emu)"}]},
 "mark": {"type": "text", "align": "left", "baseline": "alphabetic", "fontSize": 36, "angle": 270, "color": "#ff0000"},
 "encoding": {
  "x": {"field": "T", "type": "quantitative", "scale": {"domain": [0, 300], "nice": false, "zero": false}, "axis": null},
  "y": {"field": "c", "type": "quantitative", "scale": {"domain": [0, 0.6], "nice": false, "zero": false}, "axis": null},
  "text": {"field": "t"}}},
{"data": {"values": [{"T": 342.5, "c": 0.1675, "t": "χ"}, {"T": 342.5, "c": 0.2272, "t": "χ"}]},
 "mark": {"type": "text", "align": "left", "baseline": "alphabetic", "fontSize": 36, "fontStyle": "italic", "font": "Liberation Serif", "angle": 270, "color": "#ff0000"},
 "encoding": {
  "x": {"field": "T", "type": "quantitative", "scale": {"domain": [0, 300], "nice": false, "zero": false}, "axis": null},
  "y": {"field": "c", "type": "quantitative", "scale": {"domain": [0, 0.6], "nice": false, "zero": false}, "axis": null},
  "text": {"field": "t"}}},
{"data": {"values": [{"T": 346.6, "c": 0.2534, "t": "0"}]},
 "mark": {"type": "text", "align": "left", "baseline": "alphabetic", "fontSize": 22, "angle": 270, "color": "#ff0000"},
 "encoding": {
  "x": {"field": "T", "type": "quantitative", "scale": {"domain": [0, 300], "nice": false, "zero": false}, "axis": null},
  "y": {"field": "c", "type": "quantitative", "scale": {"domain": [0, 0.6], "nice": false, "zero": false}, "axis": null},
  "text": {"field": "t"}}}
]
}
]
}
